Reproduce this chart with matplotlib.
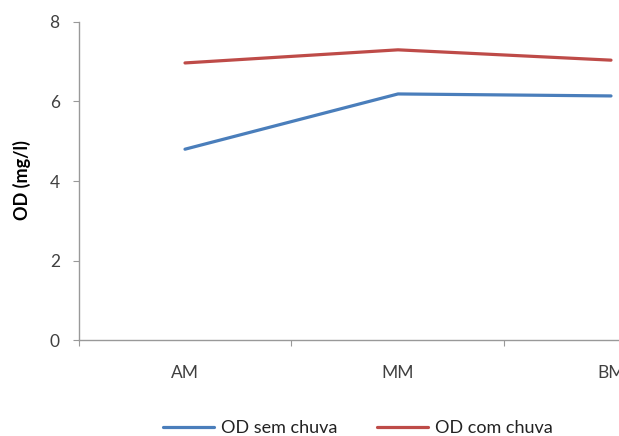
import matplotlib.pyplot as plt
from matplotlib.ticker import FixedLocator

# dados
categorias = ["AM", "MM", "BM"]
od_sem_chuva = [4.80, 6.19, 6.14]
od_com_chuva = [6.97, 7.30, 7.04]

plt.rcParams['font.family'] = ['Lato', 'DejaVu Sans']

fig = plt.figure(figsize=(6.19, 4.36), dpi=100)
# o eixo passa da borda direita, como no original (BM cortado)
ax = fig.add_axes([78.5 / 619, 96 / 436, 639 / 619, 318 / 436])

x = list(range(len(categorias)))
ax.plot(x, od_sem_chuva, color="#4A7EBB", lw=2.3, label="OD sem chuva",
        solid_capstyle="round")
ax.plot(x, od_com_chuva, color="#BE4B48", lw=2.3, label="OD com chuva",
        solid_capstyle="round")

ax.set_xlim(-0.5, len(categorias) - 0.5)
ax.set_ylim(0, 8)
ax.set_yticks([0, 2, 4, 6, 8])
ax.set_xticks(x)
ax.set_xticklabels(categorias)
ax.xaxis.set_minor_locator(FixedLocator([-0.5, 0.5, 1.5]))

ax.tick_params(axis="x", which="major", length=0, pad=18, labelsize=12.5,
               labelcolor="#404040")
ax.tick_params(axis="x", which="minor", length=4.5, color="#999999", width=0.8)
ax.tick_params(axis="y", length=4.5, pad=9, labelsize=12.5,
               labelcolor="#404040", color="#999999", width=0.8)

for s in ["top", "right"]:
    ax.spines[s].set_visible(False)
for s in ["left", "bottom"]:
    ax.spines[s].set_color("#999999")
    ax.spines[s].set_linewidth(1.0)

fig.text(22 / 619, 1 - 180 / 436, "OD (mg/l)", rotation=90, fontsize=13,
         fontweight="bold", ha="center", va="center")

fig.legend(loc="center", bbox_to_anchor=(358 / 619, 8 / 436), ncol=2,
           frameon=False, fontsize=13, handlelength=2.8, handletextpad=0.4,
           columnspacing=2.2, labelcolor="#222222")

fig.savefig("out.png", dpi=100)
